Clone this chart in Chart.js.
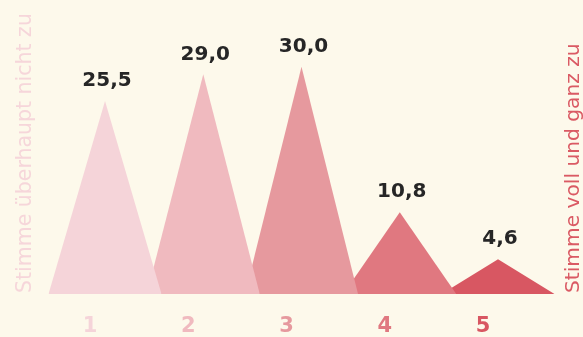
<!DOCTYPE html>
<html>
<head>
<meta charset="utf-8">
<script src="https://cdn.jsdelivr.net/npm/chart.js@4.4.1/dist/chart.umd.min.js"></script>
<style>
  html, body { margin: 0; padding: 0; background: #fdf9eb; }
  #wrap { width: 583px; height: 337px; position: relative; }
</style>
</head>
<body>
<div id="wrap"><canvas id="chart"></canvas></div>
<script>
const categories = ['1', '2', '3', '4', '5'];
const values = [25.5, 29.0, 30.0, 10.8, 4.6];
const colors = ['#f5d4d9', '#f0babf', '#e6999e', '#e07880', '#d85762'];
const leftLabel = 'Stimme überhaupt nicht zu';
const rightLabel = 'Stimme voll und ganz zu';

// half width of each triangle, in category units
const halfWidth = 0.575;

const datasets = values.map((v, i) => ({
  data: [
    { x: i + 1 - halfWidth, y: 0 },
    { x: i + 1, y: v },
    { x: i + 1 + halfWidth, y: 0 }
  ],
  backgroundColor: colors[i],
  borderWidth: 0,
  pointRadius: 0,
  tension: 0,
  fill: 'origin'
}));

// value above each peak + the two rotated end labels
const labelsPlugin = {
  id: 'peakLabels',
  afterDatasetsDraw(chart) {
    const ctx = chart.ctx;
    ctx.save();
    ctx.font = 'bold 20px "DejaVu Sans"';
    ctx.fillStyle = '#262626';
    ctx.textAlign = 'center';
    ctx.textBaseline = 'middle';
    values.forEach((v, i) => {
      const pt = chart.getDatasetMeta(i).data[1];
      ctx.fillText(v.toFixed(1).replace('.', ','), pt.x + 2, pt.y - 20);
    });

    const bottom = chart.chartArea.bottom - 1;
    ctx.textAlign = 'left';
    ctx.textBaseline = 'middle';

    ctx.save();
    ctx.font = '20.5px "DejaVu Sans"';
    ctx.translate(25.5, bottom);
    ctx.rotate(-Math.PI / 2);
    ctx.fillStyle = '#f6d6da';
    ctx.fillText(leftLabel, 0, 0);
    ctx.restore();

    ctx.save();
    ctx.font = '20.2px "DejaVu Sans"';
    ctx.translate(574, bottom);
    ctx.rotate(-Math.PI / 2);
    ctx.fillStyle = '#da5a64';
    ctx.fillText(rightLabel, 0, 0);
    ctx.restore();

    ctx.restore();
  }
};

new Chart(document.getElementById('chart'), {
  type: 'line',
  data: { datasets: datasets },
  options: {
    responsive: true,
    maintainAspectRatio: false,
    animation: false,
    layout: { padding: { left: 44, right: 27, top: 10, bottom: 0 } },
    plugins: { legend: { display: false }, tooltip: { enabled: false } },
    scales: {
      x: {
        type: 'linear',
        min: 0.379,
        max: 5.59,
        afterBuildTicks: scale => {
          scale.ticks = categories.map((c, i) => ({ value: i + 1 }));
        },
        afterFit: scale => { scale.height = 43; },
        grid: { display: false, drawTicks: false },
        border: { display: false },
        ticks: {
          padding: 20,
          labelOffset: -15,
          maxRotation: 0,
          autoSkip: false,
          font: { family: 'DejaVu Sans', size: 21, weight: 'bold' },
          color: ctx => colors[ctx.index],
          callback: (value, index) => categories[index]
        }
      },
      y: {
        display: false,
        min: 0,
        max: 37.5
      }
    }
  },
  plugins: [labelsPlugin]
});
</script>
</body>
</html>
